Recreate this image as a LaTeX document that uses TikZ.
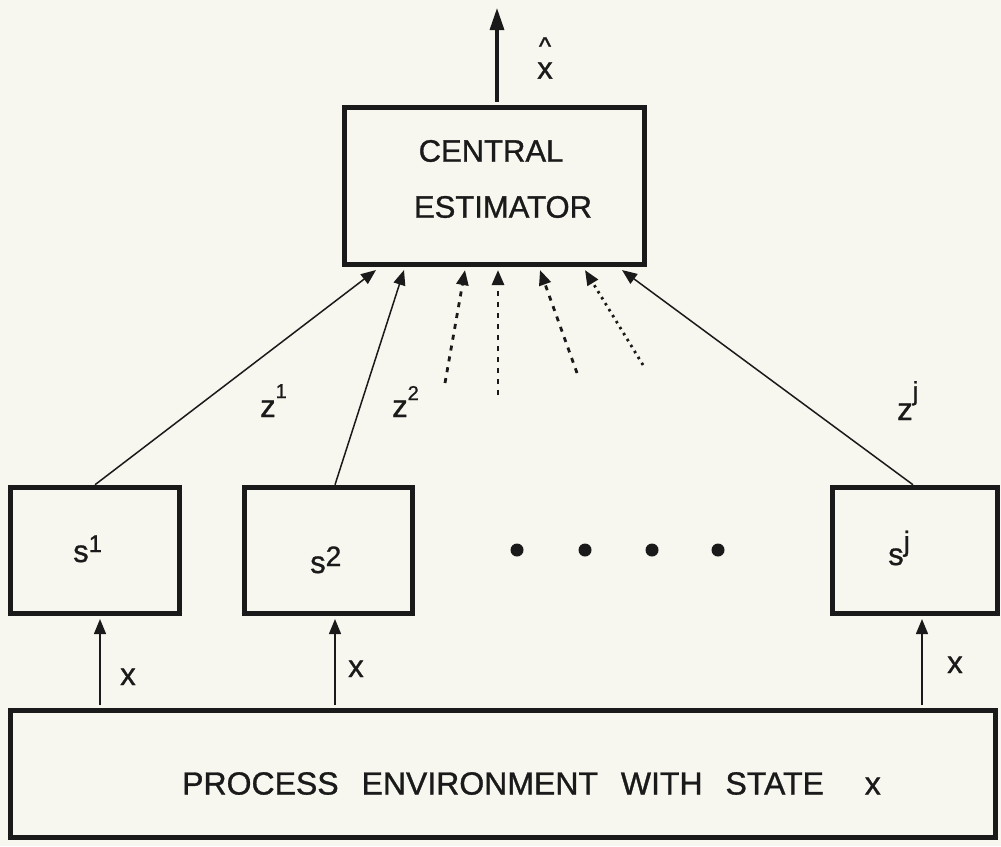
\documentclass[tikz,border=0pt]{standalone}
\usepackage{fontspec}
\setmainfont{Liberation Sans}[FakeBold=1]
\usetikzlibrary{arrows.meta,calc}
\definecolor{paper}{RGB}{247,247,239}
\definecolor{ink}{RGB}{26,26,26}
% raised index: #1 raise, #2 font size, #3 text
\newcommand{\idx}[3]{\raisebox{#1}{\fontsize{#2}{#2}\selectfont #3}}
\begin{document}
\begin{tikzpicture}[x=1pt,y=-1pt,
  box/.style={draw=ink,line width=5.5pt,inner sep=0pt},
  lbl/.style={text=ink,inner sep=0pt,font=\fontsize{31}{31}\selectfont},
  feed/.style={draw=ink,line width=1.5pt,-{Triangle[length=15pt,width=12pt]}},
  guess/.style={feed,line width=2.8pt,dash pattern=on 5pt off 6pt},
  guessdots/.style={feed,line width=2.8pt,dash pattern=on 2.5pt off 4.5pt},
  outflow/.style={draw=ink,line width=3.2pt,-{Triangle[length=22pt,width=14pt]}},
  dot/.style={circle,fill=ink,inner sep=0pt,minimum size=13pt}]

\fill[paper] (0,0) rectangle (1001,846);
\useasboundingbox (0,0) rectangle (1001,846);

% blocks
\node[box,minimum width=300pt,minimum height=157pt] (ce) at (494.5,186) {};
\node[box,minimum width=169pt,minimum height=126pt] (s1) at (95,550.5) {};
\node[box,minimum width=168pt,minimum height=126pt] (s2) at (328.5,550.5) {};
\node[box,minimum width=165pt,minimum height=126pt] (sj) at (915,550.5) {};
\node[box,minimum width=985pt,minimum height=127pt] (env) at (503,774) {};

% block texts
\node[lbl] (ce1) at (491,151) {CENTRAL};
\node[lbl] (ce2) at (503,207) {ESTIMATOR};
\node[lbl,font=\fontsize{32}{32}\selectfont] (envt) at (531.5,783.5)
  {PROCESS\hspace{14pt} ENVIRONMENT\hspace{14pt} WITH\hspace{14pt} STATE\hspace{32pt} x};
\node[lbl,anchor=base west] (s1t) at (73,562) {s\idx{10pt}{24}{1}};
\node[lbl,anchor=base west] (s2t) at (310,573) {s\idx{7pt}{28}{2}};
\node[lbl,anchor=base west] (sjt) at (888,565) {s\idx{14pt}{28}{j}};

% ellipsis between sensors
\node[dot] (d1) at (517,550) {};
\node[dot] (d2) at (585,550) {};
\node[dot] (d3) at (652,550) {};
\node[dot] (d4) at (718,550) {};

% state x into each sensor
\draw[feed] ($(s1.south |- env.north)+(5,-2.5)$) -- ($(s1.south)+(5,2.8)$);
\draw[feed] ($(s2.south |- env.north)+(6.5,-2.5)$) -- ($(s2.south)+(6.5,2.8)$);
\draw[feed] ($(sj.south |- env.north)+(7,-2.5)$) -- ($(sj.south)+(7,2.8)$);
\node[lbl,anchor=base west] (x1) at (120,685) {x};
\node[lbl,anchor=base west] (x2) at (348,677) {x};
\node[lbl,anchor=base west] (xj) at (947,673) {x};

% measurements to the central estimator
\draw[feed] (s1.north) -- ($(ce.south)+(-118.5,2.8)$);
\draw[feed] ($(s2.north)+(6.5,0)$) -- ($(ce.south)+(-90.5,2.8)$);
\draw[feed] ($(sj.north)+(-2,0)$) -- ($(ce.south)+(127.5,2.8)$);
\node[lbl,anchor=base west] (z1) at (260,417) {z\idx{19pt}{20}{1}};
\node[lbl,anchor=base west] (z2) at (392,417) {z\idx{17pt}{20}{2}};
\node[lbl,anchor=base west] (zj) at (897,420) {z\idx{20pt}{26}{j}};

% further sensors, not drawn
\coordinate (g1) at (445,383);
\coordinate (g2) at (498,395);
\coordinate (g3) at (577,373);
\coordinate (g4) at (643,365);
\draw[guess] (g1) -- ($(ce.south)+(-29.5,2.8)$);
\draw[guess] (g2) -- ($(ce.south)+(3.5,2.8)$);
\draw[guess] (g3) -- ($(ce.south)+(45.5,2.8)$);
\draw[guessdots] (g4) -- ($(ce.south)+(90.5,2.8)$);

% estimate output
\coordinate (out) at (497,8);
\draw[outflow] ($(ce.north)+(2.5,-2.8)$) -- (out);
\node[lbl] (xhat) at (545,58)
  {\shortstack{\fontsize{26}{26}\selectfont\textasciicircum\\[4pt]x}};
\end{tikzpicture}
\end{document}
